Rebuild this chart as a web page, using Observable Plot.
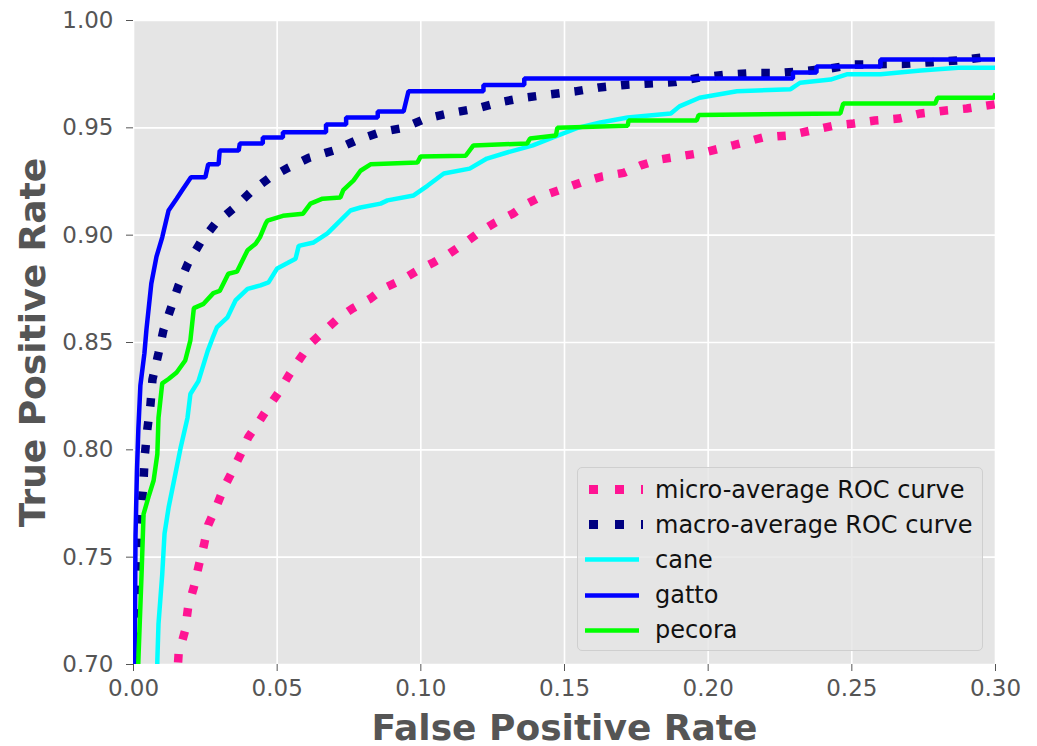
<!DOCTYPE html>
<html>
<head>
<meta charset="utf-8">
<script src="https://cdn.jsdelivr.net/npm/d3@7"></script>
<script src="https://cdn.jsdelivr.net/npm/@observablehq/plot@0.6"></script>
<style>
  html, body { margin: 0; padding: 0; background: white; }
  #wrap { position: relative; width: 1037px; height: 746px; font-family: "DejaVu Sans", sans-serif; }
  #legend { position: absolute; left: 577px; top: 467px; width: 406px; height: 184px;
    background: rgba(229,229,229,0.8); border: 1.5px solid #cfcfcf; border-radius: 5px; box-sizing: border-box; }
  .row { position: absolute; left: 0; height: 35px; display: flex; align-items: center; }
  .row svg { margin-left: 5px; }
  .row span { position: absolute; left: 77px; font-size: 24px; color: #111; white-space: nowrap; }
</style>
</head>
<body>
<div id="wrap"></div>
<script>
// ---- data ----
const xTicks = [0.00, 0.05, 0.10, 0.15, 0.20, 0.25, 0.30];
const yTicks = [0.70, 0.75, 0.80, 0.85, 0.90, 0.95, 1.00];
const seriesNames = ["micro-average ROC curve", "macro-average ROC curve", "cane", "gatto", "pecora"];
const seriesColors = ["#ff1493", "#000080", "#00ffff", "#0000ff", "#00ff00"];

const microFpr = [0.0150,0.0157,0.018,0.019,0.021,0.0227,0.0245,0.026,0.029,0.0315,0.0344,0.0373,0.040,0.0435,0.047,0.0505,0.054,0.0575,0.0616,0.0658,0.071,0.0762,0.0825,0.087,0.093,0.0988,0.1044,0.110,0.115,0.120,0.126,0.132,0.137,0.1427,0.1497,0.1556,0.163,0.1706,0.1765,0.1834,0.1914,0.1984,0.209,0.219,0.2276,0.236,0.2437,0.2506,0.258,0.2663,0.274,0.282,0.290,0.30];
const microTpr = [0.69,0.705,0.716,0.7266,0.736,0.746,0.7555,0.765,0.774,0.7825,0.790,0.798,0.806,0.8127,0.820,0.8267,0.8346,0.8416,0.8495,0.8547,0.861,0.8658,0.8705,0.8752,0.8789,0.8835,0.8873,0.8915,0.896,0.901,0.906,0.910,0.9147,0.9185,0.9217,0.9245,0.9273,0.929,0.9325,0.9353,0.937,0.9385,0.942,0.9455,0.9464,0.9488,0.951,0.952,0.9534,0.9543,0.9567,0.958,0.959,0.961];

const macroFpr = [0.0007,0.0014,0.0021,0.0028,0.0035,0.0039,0.0048,0.0059,0.0066,0.0087,0.0104,0.0157,0.019,0.0233,0.0285,0.0348,0.0407,0.047,0.054,0.061,0.0696,0.0773,0.086,0.094,0.1016,0.110,0.1194,0.127,0.1357,0.1444,0.1538,0.162,0.1709,0.1796,0.1883,0.197,0.2066,0.2153,0.224,0.2329,0.2416,0.251,0.2687,0.278,0.2868,0.2955,0.30];
const macroTpr = [0.70,0.73,0.7615,0.773,0.7857,0.797,0.8095,0.821,0.8328,0.845,0.8556,0.8766,0.887,0.8966,0.9054,0.9124,0.920,0.9264,0.9315,0.936,0.9394,0.944,0.948,0.950,0.9543,0.9568,0.959,0.9618,0.964,0.9655,0.967,0.9688,0.970,0.9707,0.9713,0.9734,0.9748,0.9755,0.9755,0.9764,0.9775,0.9795,0.9798,0.9806,0.9814,0.9828,0.983];

const caneFpr = [0.0080,0.0083,0.0087,0.010,0.0108,0.0122,0.0146,0.0164,0.0188,0.0198,0.0226,0.0258,0.0275,0.029,0.0327,0.0355,0.0397,0.0442,0.047,0.050,0.0536,0.0564,0.0575,0.0627,0.0675,0.0696,0.0755,0.079,0.086,0.0884,0.0975,0.1023,0.108,0.117,0.123,0.130,0.139,0.146,0.1545,0.1625,0.172,0.187,0.190,0.197,0.210,0.2287,0.232,0.2426,0.2485,0.260,0.274,0.287,0.30];
const caneTpr = [0.68,0.702,0.719,0.742,0.761,0.773,0.789,0.801,0.815,0.826,0.832,0.846,0.852,0.857,0.8617,0.8696,0.875,0.8766,0.878,0.8845,0.887,0.889,0.895,0.8966,0.9008,0.9036,0.9115,0.9129,0.9147,0.9162,0.9185,0.923,0.9287,0.931,0.9357,0.9385,0.9418,0.9455,0.950,0.9525,0.9548,0.9567,0.960,0.964,0.967,0.968,0.971,0.9725,0.975,0.975,0.9767,0.978,0.978];

const gattoFpr = [0.0003,0.0005,0.0007,0.0012,0.0017,0.0024,0.0038,0.0045,0.0062,0.008,0.010,0.0122,0.015,0.017,0.020,0.025,0.026,0.0296,0.030,0.0366,0.037,0.045,0.045,0.052,0.052,0.067,0.067,0.074,0.074,0.085,0.085,0.094,0.0957,0.1218,0.1218,0.136,0.136,0.2295,0.2295,0.2377,0.2377,0.2600,0.2600,0.30];
const gattoTpr = [0.69,0.72,0.76,0.79,0.81,0.83,0.845,0.856,0.8775,0.89,0.899,0.9115,0.917,0.921,0.927,0.927,0.933,0.933,0.9394,0.9394,0.9427,0.9427,0.9455,0.9455,0.948,0.948,0.9515,0.9515,0.9548,0.9548,0.9576,0.9576,0.967,0.967,0.970,0.970,0.973,0.973,0.9758,0.9758,0.9786,0.9786,0.9818,0.9818];

const pecoraFpr = [0.0012,0.0017,0.0028,0.0035,0.0052,0.007,0.0083,0.0087,0.010,0.0122,0.015,0.018,0.0198,0.021,0.0244,0.0278,0.030,0.033,0.036,0.0397,0.0425,0.044,0.046,0.0466,0.052,0.059,0.0616,0.0658,0.072,0.073,0.0766,0.079,0.0825,0.0988,0.0999,0.1156,0.1183,0.137,0.138,0.147,0.1475,0.172,0.1723,0.196,0.1967,0.246,0.247,0.279,0.2798,0.2995,0.30];
const pecoraTpr = [0.68,0.702,0.742,0.770,0.778,0.7857,0.798,0.815,0.831,0.833,0.836,0.8416,0.851,0.866,0.868,0.873,0.874,0.882,0.883,0.893,0.896,0.899,0.9054,0.9068,0.909,0.910,0.9147,0.917,0.9176,0.921,0.9255,0.930,0.933,0.9338,0.9366,0.937,0.9418,0.9427,0.945,0.9464,0.950,0.951,0.9534,0.9534,0.956,0.9567,0.9613,0.9613,0.964,0.964,0.966];

// ---- build tables ----
const toRows = (fpr, tpr) => fpr.map((f, i) => ({fpr: f, tpr: tpr[i]}));
const micro = toRows(microFpr, microTpr);
const macro = toRows(macroFpr, macroTpr);
const cane = toRows(caneFpr, caneTpr);
const gatto = toRows(gattoFpr, gattoTpr);
const pecora = toRows(pecoraFpr, pecoraTpr);

const fmt = d3.format(".2f");
const dotted = {strokeWidth: 8.5, strokeDasharray: "8.5,15", strokeLinecap: "butt", strokeLinejoin: "miter"};
const solid = {strokeWidth: 4.5, strokeLinejoin: "miter", strokeLinecap: "butt"};

const chart = Plot.plot({
  width: 1037,
  height: 746,
  marginLeft: 133,
  marginRight: 42,
  marginTop: 20,
  marginBottom: 82,
  style: {background: "white", fontFamily: "DejaVu Sans, sans-serif", color: "#555", overflow: "visible"},
  x: {domain: [0, 0.3]},
  y: {domain: [0.7, 1.0]},
  marks: [
    Plot.frame({fill: "#e5e5e5", stroke: null}),
    Plot.gridX(xTicks, {stroke: "white", strokeOpacity: 1, strokeWidth: 1.6}),
    Plot.gridY(yTicks, {stroke: "white", strokeOpacity: 1, strokeWidth: 1.6}),
    Plot.line(micro, {x: "fpr", y: "tpr", stroke: seriesColors[0], clip: true, ...dotted}),
    Plot.line(macro, {x: "fpr", y: "tpr", stroke: seriesColors[1], clip: true, ...dotted}),
    Plot.line(cane, {x: "fpr", y: "tpr", stroke: seriesColors[2], clip: true, ...solid}),
    Plot.line(gatto, {x: "fpr", y: "tpr", stroke: seriesColors[3], clip: true, ...solid}),
    Plot.line(pecora, {x: "fpr", y: "tpr", stroke: seriesColors[4], clip: true, ...solid}),
    Plot.axisX(xTicks, {tickFormat: fmt, fontSize: 23, tickSize: 7, tickPadding: 8, label: null, stroke: "#555", fill: "#555"}),
    Plot.axisY(yTicks, {tickFormat: fmt, fontSize: 23, tickSize: 7, tickPadding: 13, label: null, stroke: "#555", fill: "#555"}),
    Plot.text(["False Positive Rate"], {frameAnchor: "bottom", lineAnchor: "middle", textAnchor: "middle", dy: 64, fontSize: 36, fontWeight: "bold", fill: "#555"}),
    Plot.text(["True Positive Rate"], {frameAnchor: "left", lineAnchor: "middle", textAnchor: "middle", dx: -100, rotate: -90, fontSize: 36, fontWeight: "bold", fill: "#555"})
  ]
});

const wrap = document.getElementById("wrap");
wrap.appendChild(chart);

// ---- legend (inside the plot, lower right) ----
const legend = document.createElement("div");
legend.id = "legend";
seriesNames.forEach((name, i) => {
  const row = document.createElement("div");
  row.className = "row";
  row.style.top = (4 + i * 35.2) + "px";
  const isDotted = i < 2;
  const svg = d3.create("svg").attr("width", 60).attr("height", 35);
  svg.append("line")
    .attr("x1", 2).attr("x2", 56).attr("y1", 17.5).attr("y2", 17.5)
    .attr("stroke", seriesColors[i])
    .attr("stroke-width", isDotted ? 9 : 4.5)
    .attr("stroke-dasharray", isDotted ? "9,17" : null)
    .attr("transform", isDotted ? "translate(4,0)" : null);
  row.appendChild(svg.node());
  const label = document.createElement("span");
  label.textContent = name;
  row.appendChild(label);
  legend.appendChild(row);
});
wrap.appendChild(legend);
</script>
</body>
</html>
